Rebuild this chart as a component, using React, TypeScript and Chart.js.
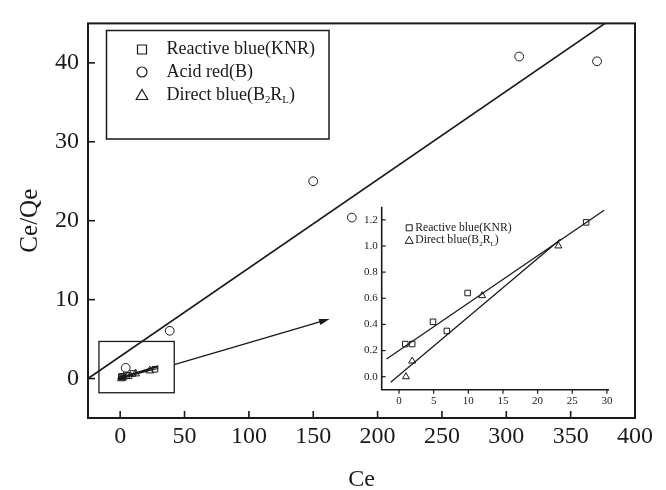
import React, { useEffect, useRef } from 'react';
import { Chart, registerables } from 'chart.js';

Chart.register(...registerables);

// ---------- data ----------
const knrCe = [0.9, 1.9, 4.9, 6.9, 9.9, 27.0];
const knrRatio = [0.25, 0.25, 0.42, 0.35, 0.64, 1.18];
const acidCe = [4.3, 38.5, 150, 180, 310, 370.5];
const acidRatio = [1.35, 6.05, 25.0, 20.4, 40.8, 40.2];
const directCe = [1.0, 1.9, 12.0, 23.0];
const directRatio = [0.0, 0.12, 0.62, 1.0];

const acidFitCe = [-25, 376.7];
const acidFitRatio = [0.0, 45];
const knrFitCe = [-1.8, 29.6];
const knrFitRatio = [0.135, 1.273];
const directFitCe = [-1.2, 23.3];
const directFitRatio = [-0.043, 1.052];

const mainXTicks = [0, 50, 100, 150, 200, 250, 300, 350, 400];
const mainYTicks = [0, 10, 20, 30, 40];
const insetXTicks = [0, 5, 10, 15, 20, 25, 30];
const insetYTicks = [0, 0.2, 0.4, 0.6, 0.8, 1.0, 1.2];

// annotation anchors (data units of the main chart)
const zoomBoxCe = [-16.5, 42];
const zoomBoxRatio = [-1.8, 4.7];
const arrowCe = [42, 162.7];
const arrowRatio = [1.76, 7.54];
const miniArrowCe = [29.6, -2.7];
const miniArrowRatio = [1.55, -0.07];

const mainLegend = ['Reactive blue(KNR)', 'Acid red(B)', 'Direct blue(B2RL)'];
const insetLegend = ['Reactive blue(KNR)', 'Direct blue(B2RL)'];

// ---------- style ----------
const INK = '#1a1a1a';
const SERIF = "'Liberation Serif', 'Times New Roman', serif";

type Part = { t: string; sub?: boolean };
function labelParts(label: string): Part[] {
  if (label === 'Direct blue(B2RL)') {
    return [{ t: 'Direct blue(B' }, { t: '2', sub: true }, { t: 'R' }, { t: 'L', sub: true }, { t: ')' }];
  }
  return [{ t: label }];
}

function drawRich(ctx: CanvasRenderingContext2D, parts: Part[], x: number, y: number, size: number) {
  let cx = x;
  ctx.textAlign = 'left';
  ctx.textBaseline = 'middle';
  for (const p of parts) {
    const s = p.sub ? size * 0.6 : size;
    ctx.font = `${s}px ${SERIF}`;
    ctx.fillText(p.t, cx, p.sub ? y + size * 0.3 : y);
    cx += ctx.measureText(p.t).width;
  }
}

function marker(ctx: CanvasRenderingContext2D, kind: string, x: number, y: number, s: number) {
  ctx.beginPath();
  if (kind === 'rect') {
    ctx.rect(x - s / 2, y - s / 2, s, s);
  } else if (kind === 'circle') {
    ctx.arc(x, y, s / 2, 0, Math.PI * 2);
  } else {
    ctx.moveTo(x, y - s * 0.55);
    ctx.lineTo(x + s * 0.58, y + s * 0.45);
    ctx.lineTo(x - s * 0.58, y + s * 0.45);
    ctx.closePath();
  }
  ctx.stroke();
}

function arrow(ctx: CanvasRenderingContext2D, x0: number, y0: number, x1: number, y1: number, head: number, width: number) {
  const a = Math.atan2(y1 - y0, x1 - x0);
  ctx.lineWidth = width;
  ctx.beginPath();
  ctx.moveTo(x0, y0);
  ctx.lineTo(x1 - Math.cos(a) * head * 0.6, y1 - Math.sin(a) * head * 0.6);
  ctx.stroke();
  ctx.beginPath();
  ctx.moveTo(x1, y1);
  ctx.lineTo(x1 - Math.cos(a - 0.3) * head, y1 - Math.sin(a - 0.3) * head);
  ctx.lineTo(x1 - Math.cos(a + 0.3) * head, y1 - Math.sin(a + 0.3) * head);
  ctx.closePath();
  ctx.fill();
}

const pts = (xs: number[], ys: number[]) => xs.map((x, i) => ({ x, y: ys[i] }));

const mainDecor = {
  id: 'mainDecor',
  afterDatasetsDraw(chart: any) {
    const { ctx, chartArea: ca, scales } = chart;
    const xs = scales.x;
    const ys = scales.y;
    ctx.save();
    ctx.strokeStyle = INK;
    ctx.fillStyle = INK;
    // frame
    ctx.lineWidth = 2;
    ctx.strokeRect(ca.left, ca.top, ca.right - ca.left, ca.bottom - ca.top);
    // inward ticks
    ctx.lineWidth = 1.6;
    for (const v of mainXTicks) {
      const px = xs.getPixelForValue(v);
      ctx.beginPath();
      ctx.moveTo(px, ca.bottom);
      ctx.lineTo(px, ca.bottom - 7);
      ctx.stroke();
    }
    for (const v of mainYTicks) {
      const py = ys.getPixelForValue(v);
      ctx.beginPath();
      ctx.moveTo(ca.left, py);
      ctx.lineTo(ca.left + 7, py);
      ctx.stroke();
    }
    // zoom box
    ctx.lineWidth = 1.3;
    const bx0 = xs.getPixelForValue(zoomBoxCe[0]);
    const bx1 = xs.getPixelForValue(zoomBoxCe[1]);
    const by0 = ys.getPixelForValue(zoomBoxRatio[1]);
    const by1 = ys.getPixelForValue(zoomBoxRatio[0]);
    ctx.strokeRect(bx0, by0, bx1 - bx0, by1 - by0);
    // arrows
    arrow(ctx, xs.getPixelForValue(arrowCe[0]), ys.getPixelForValue(arrowRatio[0]),
      xs.getPixelForValue(arrowCe[1]), ys.getPixelForValue(arrowRatio[1]), 11, 1.5);
    arrow(ctx, xs.getPixelForValue(miniArrowCe[0]), ys.getPixelForValue(miniArrowRatio[0]),
      xs.getPixelForValue(miniArrowCe[1]), ys.getPixelForValue(miniArrowRatio[1]), 9, 2);
    // legend
    const lx0 = 106.5, ly0 = 30.5, lx1 = 329, ly1 = 139;
    ctx.lineWidth = 1.5;
    ctx.strokeRect(lx0, ly0, lx1 - lx0, ly1 - ly0);
    const kinds = ['rect', 'circle', 'triangle'];
    const rows = [49.5, 72, 95];
    ctx.lineWidth = 1.2;
    mainLegend.forEach((lab, i) => {
      marker(ctx, kinds[i], 142, rows[i], i === 0 ? 9 : 10);
      drawRich(ctx, labelParts(lab), 166.5, rows[i], 18);
    });
    ctx.restore();
  },
};

const insetDecor = {
  id: 'insetDecor',
  afterDatasetsDraw(chart: any) {
    const { ctx, chartArea: ca, scales } = chart;
    const xs = scales.x;
    const ys = scales.y;
    ctx.save();
    ctx.strokeStyle = INK;
    ctx.fillStyle = INK;
    ctx.lineWidth = 1.6;
    ctx.beginPath();
    ctx.moveTo(ca.left, ca.top);
    ctx.lineTo(ca.left, ca.bottom);
    ctx.lineTo(ca.right, ca.bottom);
    ctx.stroke();
    ctx.lineWidth = 1.2;
    for (const v of insetXTicks) {
      const px = xs.getPixelForValue(v);
      ctx.beginPath();
      ctx.moveTo(px, ca.bottom);
      ctx.lineTo(px, ca.bottom + 4);
      ctx.stroke();
    }
    for (const v of insetYTicks) {
      const py = ys.getPixelForValue(v);
      ctx.beginPath();
      ctx.moveTo(ca.left, py);
      ctx.lineTo(ca.left + 4, py);
      ctx.stroke();
    }
    // legend
    const kinds = ['rect', 'triangle'];
    const rows = [21.1, 33.5];
    ctx.lineWidth = 1;
    insetLegend.forEach((lab, i) => {
      marker(ctx, kinds[i], ca.left + 27.5, ca.top + rows[i], i === 0 ? 6 : 7);
      drawRich(ctx, labelParts(lab), ca.left + 33.5, ca.top + rows[i], 11.7);
    });
    ctx.restore();
  },
};

export default function App() {
  const mainRef = useRef<HTMLCanvasElement | null>(null);
  const insetRef = useRef<HTMLCanvasElement | null>(null);

  useEffect(() => {
    document.body.style.margin = '0';
    const font = (size: number) => ({ family: SERIF, size });

    const main = new Chart(mainRef.current as HTMLCanvasElement, {
      type: 'scatter',
      data: {
        datasets: [
          { label: mainLegend[0], data: pts(knrCe, knrRatio), pointStyle: 'rect', pointRadius: 4, borderColor: INK, backgroundColor: 'rgba(0,0,0,0)', borderWidth: 1 },
          { label: mainLegend[1], data: pts(acidCe, acidRatio), pointStyle: 'circle', pointRadius: 4.4, borderColor: INK, backgroundColor: 'rgba(0,0,0,0)', borderWidth: 1 },
          { label: mainLegend[2], data: pts(directCe, directRatio), pointStyle: 'triangle', pointRadius: 4.5, borderColor: INK, backgroundColor: 'rgba(0,0,0,0)', borderWidth: 1 },
          { type: 'line', label: 'fitB', data: pts(acidFitCe, acidFitRatio), borderColor: INK, borderWidth: 1.7, pointRadius: 0 } as any,
          { type: 'line', label: 'fitKNR', data: pts(knrFitCe, knrFitRatio), borderColor: INK, borderWidth: 1.2, pointRadius: 0 } as any,
          { type: 'line', label: 'fitB2RL', data: pts(directFitCe, directFitRatio), borderColor: INK, borderWidth: 1.2, pointRadius: 0 } as any,
        ],
      },
      options: {
        animation: false,
        responsive: false,
        layout: { padding: { left: 0, top: 10, right: 31, bottom: 0 } },
        plugins: { legend: { display: false }, tooltip: { enabled: false } },
        scales: {
          x: {
            type: 'linear', min: -25, max: 400,
            afterBuildTicks: (s: any) => { s.ticks = mainXTicks.map((v) => ({ value: v })); },
            afterFit: (s: any) => { s.height = 72; },
            grid: { display: false, drawTicks: false },
            border: { display: false },
            ticks: { padding: 4.5, font: font(24), color: INK, maxRotation: 0, autoSkip: false },
            title: { display: true, text: 'Ce', color: INK, font: { family: SERIF, size: 24, lineHeight: 1 }, padding: { top: 0, bottom: -2 } },
          },
          y: {
            type: 'linear', min: -5, max: 45,
            afterBuildTicks: (s: any) => { s.ticks = mainYTicks.map((v) => ({ value: v })); },
            afterFit: (s: any) => { s.width = 88; },
            grid: { display: false, drawTicks: false },
            border: { display: false },
            ticks: { padding: 9, font: font(24), color: INK, autoSkip: false },
            title: { display: true, text: 'Ce/Qe', color: INK, font: { family: SERIF, size: 25, lineHeight: 1 }, padding: { top: 17.5, bottom: 0 } },
          },
        },
      },
      plugins: [mainDecor],
    } as any);

    const inset = new Chart(insetRef.current as HTMLCanvasElement, {
      type: 'scatter',
      data: {
        datasets: [
          { label: insetLegend[0], data: pts(knrCe, knrRatio), pointStyle: 'rect', pointRadius: 3.9, borderColor: INK, backgroundColor: 'rgba(0,0,0,0)', borderWidth: 1 },
          { label: insetLegend[1], data: pts(directCe, directRatio), pointStyle: 'triangle', pointRadius: 4, borderColor: INK, backgroundColor: 'rgba(0,0,0,0)', borderWidth: 1 },
          { type: 'line', label: 'fitKNR', data: pts(knrFitCe, knrFitRatio), borderColor: INK, borderWidth: 1.3, pointRadius: 0 } as any,
          { type: 'line', label: 'fitB2RL', data: pts(directFitCe, directFitRatio), borderColor: INK, borderWidth: 1.3, pointRadius: 0 } as any,
        ],
      },
      options: {
        animation: false,
        responsive: false,
        layout: { padding: { left: 0, top: 16.7, right: 21, bottom: 0 } },
        plugins: { legend: { display: false }, tooltip: { enabled: false } },
        scales: {
          x: {
            type: 'linear', min: -2.5, max: 30.3,
            afterBuildTicks: (s: any) => { s.ticks = insetXTicks.map((v) => ({ value: v })); },
            afterFit: (s: any) => { s.height = 30.2; },
            grid: { display: false, drawTicks: false },
            border: { display: false },
            ticks: { padding: 4.5, font: font(11), color: INK, maxRotation: 0, autoSkip: false },
          },
          y: {
            type: 'linear', min: -0.1, max: 1.3,
            afterBuildTicks: (s: any) => { s.ticks = insetYTicks.map((v) => ({ value: v })); },
            afterFit: (s: any) => { s.width = 51.7; },
            grid: { display: false, drawTicks: false },
            border: { display: false },
            ticks: { padding: 4, font: font(11), color: INK, autoSkip: false, callback: (v: any) => Number(v).toFixed(1) },
          },
        },
      },
      plugins: [insetDecor],
    } as any);

    return () => {
      main.destroy();
      inset.destroy();
    };
  }, []);

  return (
    <div style={{ position: 'fixed', left: 0, top: 0, width: 666, height: 490, background: '#fff' }}>
      <canvas ref={mainRef} width={666} height={490} style={{ position: 'absolute', left: 0, top: 0, width: 666, height: 490 }} />
      <canvas ref={insetRef} width={300} height={230} style={{ position: 'absolute', left: 330, top: 190, width: 300, height: 230 }} />
    </div>
  );
}
